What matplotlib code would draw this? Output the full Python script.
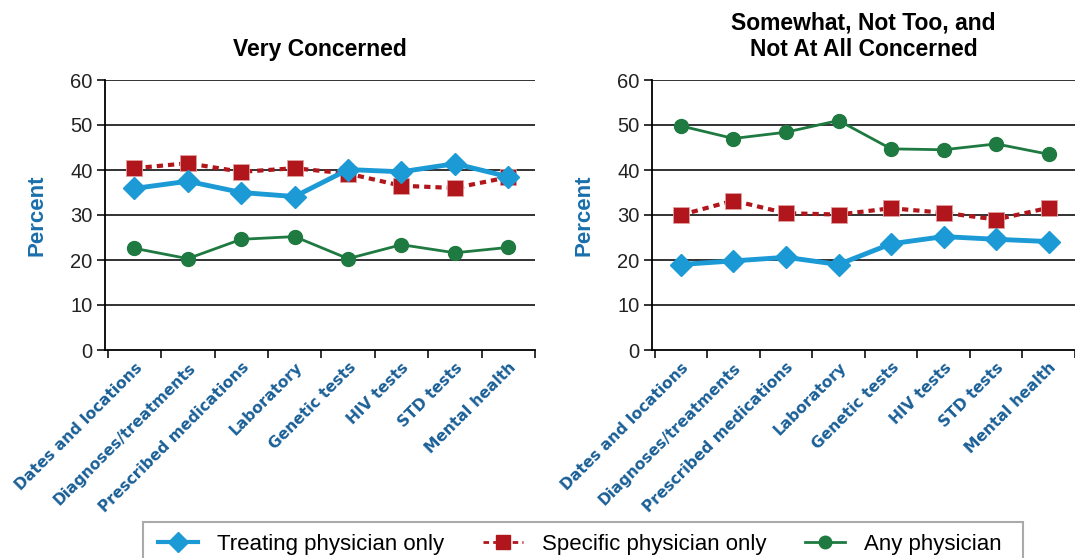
import matplotlib.pyplot as plt
from matplotlib.lines import Line2D
from matplotlib.patches import Rectangle
import numpy as np

categories = ['Dates and locations', 'Diagnoses/treatments', 'Prescribed medications',
              'Laboratory', 'Genetic tests', 'HIV tests', 'STD tests', 'Mental health']

# Very concerned
very_treating = [35.9, 37.5, 35.0, 34.1, 40.1, 39.6, 41.4, 38.5]
very_specific = [40.4, 41.5, 39.6, 40.4, 39.2, 36.5, 36.0, 38.4]
very_any = [22.6, 20.3, 24.6, 25.2, 20.3, 23.4, 21.6, 22.8]

# Somewhat, not too, and not at all concerned
other_treating = [19.0, 19.8, 20.6, 19.0, 23.6, 25.2, 24.6, 24.1]
other_specific = [30.0, 33.2, 30.4, 30.1, 31.5, 30.5, 29.0, 31.6]
other_any = [49.8, 47.0, 48.4, 51.0, 44.7, 44.5, 45.8, 43.5]

blue = '#1b9ad6'
red = '#b0161c'
green = '#1e7a40'
label_blue = '#1a5f96'

plt.rcParams['font.family'] = ['Liberation Sans', 'DejaVu Sans']

fig = plt.figure(figsize=(10.75, 5.58), dpi=100)
ax1 = fig.add_axes([105/1075, 208/558, 430/1075, 270/558])
ax2 = fig.add_axes([652/1075, 208/558, 423/1075, 270/558])

x = np.arange(len(categories))

def draw(ax, treating, specific, anyp, title):
    for v in range(10, 61, 10):
        ax.axhline(v, color='#222222', lw=1.3, zorder=1)
    ax.plot(x, anyp, '-o', color=green, lw=2, ms=10, zorder=3)
    ax.plot(x, specific, ':s', color=red, lw=3, ms=12, zorder=4,
            dashes=(1.5, 1.2), mec='#e0a0a0', mew=0.6)
    ax.plot(x, treating, '-D', color=blue, lw=3.5, ms=11, zorder=5)
    ax.set_xlim(-0.55, 7.5)
    ax.set_ylim(0, 60)
    ax.set_yticks(range(0, 61, 10))
    ax.tick_params(axis='y', labelsize=14.5, length=6, width=1.3, colors='#222222', pad=3)
    ax.set_xticks(np.arange(-0.5, 8, 1), minor=True)
    ax.set_xticks(x)
    ax.tick_params(axis='x', which='major', length=0, pad=7)
    ax.tick_params(axis='x', which='minor', length=6, width=1.3, direction='out',
                   color='#222222')
    ax.set_xticklabels(categories, rotation=45, ha='right', rotation_mode='anchor',
                       fontsize=11.2, fontweight='bold', color=label_blue,
                       family='DejaVu Sans')
    for s in ['top', 'right']:
        ax.spines[s].set_visible(False)
    ax.spines['left'].set_linewidth(1.3)
    ax.spines['bottom'].set_linewidth(1.3)
    ax.set_ylabel('Percent', fontsize=16, fontweight='bold', color='#1a6fab', labelpad=16)
    ax.set_title(title, fontsize=16.5, fontweight='bold', pad=17, linespacing=1.2)

draw(ax1, very_treating, very_specific, very_any, 'Very Concerned')
draw(ax2, other_treating, other_specific, other_any,
     'Somewhat, Not Too, and\nNot At All Concerned')

handles = [
    Line2D([], [], color=blue, lw=3, marker='D', ms=10),
    Line2D([], [], color=red, lw=2, ls=(0, (2, 1.5)), marker='s', ms=10),
    Line2D([], [], color=green, lw=2, marker='o', ms=9),
]
labels = ['Treating physician only', 'Specific physician only', 'Any physician']
leg = fig.legend(handles, labels, loc='upper left', bbox_to_anchor=(146/1075, 36/558),
                 ncol=3, fontsize=16, frameon=False, borderpad=0.55, columnspacing=1.75,
                 handlelength=1.8, handletextpad=0.85, borderaxespad=0)
fig.patches.append(Rectangle((143/1075, -0.05), 880/1075, 0.05 + 36/558,
                             transform=fig.transFigure, fill=False,
                             edgecolor='#aaaaaa', lw=1.5))

fig.savefig('out.png', dpi=100)
